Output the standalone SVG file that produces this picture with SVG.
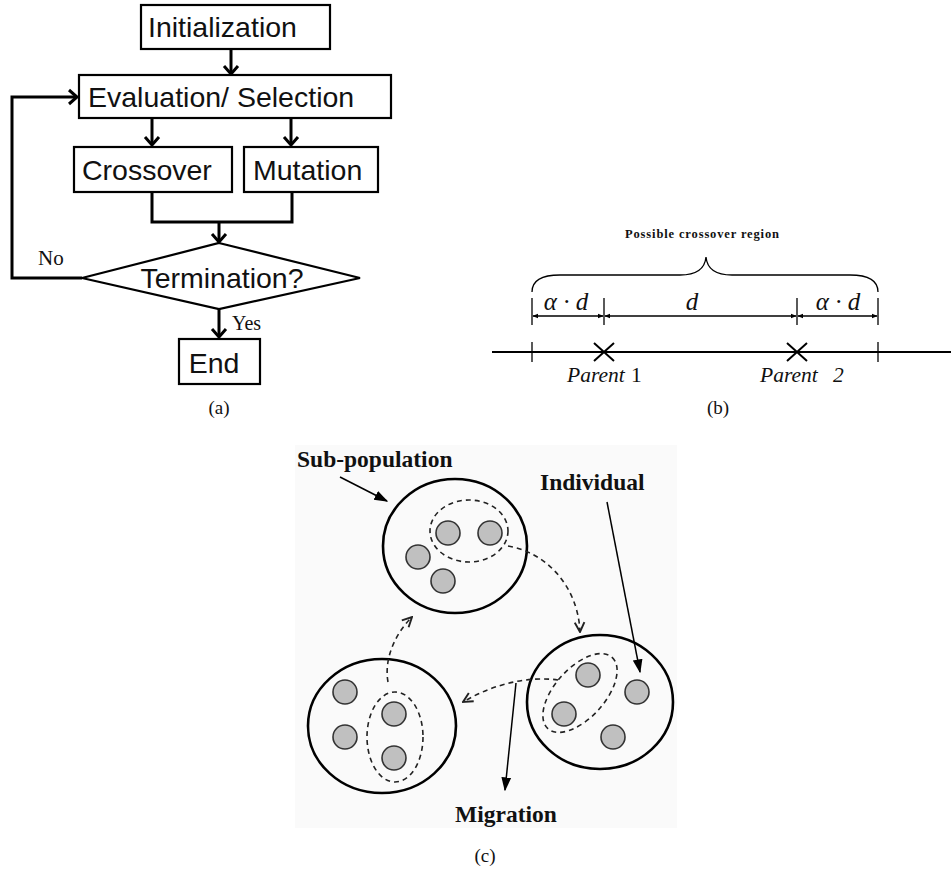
<svg xmlns="http://www.w3.org/2000/svg" width="951" height="876" viewBox="0 0 951 876">
<style>
.box{fill:#fff;stroke:#000;stroke-width:2.2}
.sa{font-family:"Liberation Sans",Arial,sans-serif;font-size:28.5px;fill:#111}
.ser{font-family:"Liberation Serif","Times New Roman",serif;fill:#111}
.ln{fill:none;stroke:#000;stroke-width:3}
.chev{fill:none;stroke:#000;stroke-width:3;stroke-linejoin:miter}
.thin{fill:none;stroke:#000;stroke-width:1.3}
.pop{fill:none;stroke:#000;stroke-width:2.6}
.ind{fill:#c0c0c0;stroke:#333;stroke-width:1.6}
.dash{fill:none;stroke:#222;stroke-width:1.6;stroke-dasharray:5 4}
.bold{font-family:"Liberation Serif","Times New Roman",serif;font-weight:bold;fill:#111}
</style>
<defs>
<marker id="tri" viewBox="0 0 10 10" refX="9" refY="5" markerWidth="6" markerHeight="6" orient="auto-start-reverse" markerUnits="userSpaceOnUse">
<path d="M0,1 L10,5 L0,9 Z" fill="#000"/>
</marker>
<marker id="big" viewBox="0 0 10 10" refX="9" refY="5" markerWidth="14" markerHeight="14" orient="auto" markerUnits="userSpaceOnUse">
<path d="M0,1.5 L10,5 L0,8.5 Z" fill="#000"/>
</marker>
<marker id="open" viewBox="0 0 10 10" refX="9" refY="5" markerWidth="12" markerHeight="12" orient="auto" markerUnits="userSpaceOnUse">
<path d="M1,1 L9,5 L1,9" fill="none" stroke="#222" stroke-width="1.6"/>
</marker>
</defs>
<rect width="951" height="876" fill="#fff"/>
<rect x="295" y="445" width="382" height="383" fill="#fafafa"/>

<!-- Panel (a) -->
<g id="connectors-a">
<line class="ln" x1="231" y1="49" x2="231" y2="74"/>
<polyline class="chev" points="224,66 231,74 238,66"/>
<line class="ln" x1="152" y1="118" x2="152" y2="145"/>
<polyline class="chev" points="145,137 152,145 159,137"/>
<line class="ln" x1="291" y1="118" x2="291" y2="145"/>
<polyline class="chev" points="284,137 291,145 298,137"/>
<polyline class="ln" points="152,192 152,222 292,222 292,192"/>
<line class="ln" x1="219" y1="222" x2="219" y2="242"/>
<polyline class="chev" points="212,234 219,242 226,234"/>
<polyline class="ln" points="82,278 12,278 12,97 77,97"/>
<polyline class="chev" points="69,90 77,97 69,104"/>
<line class="ln" x1="219" y1="309" x2="219" y2="337"/>
<polyline class="chev" points="212,329 219,337 226,329"/>
</g>
<g id="init"><rect class="box" x="141" y="5" width="189" height="44"/><text class="sa" x="148" y="37">Initialization</text></g>
<g id="eval"><rect class="box" x="79" y="75" width="312" height="43"/><text class="sa" x="88" y="107">Evaluation/ Selection</text></g>
<g id="crossover"><rect class="box" x="74" y="147" width="158" height="45"/><text class="sa" x="82" y="180">Crossover</text></g>
<g id="mutation"><rect class="box" x="244" y="147" width="134" height="45"/><text class="sa" x="253" y="180">Mutation</text></g>
<g id="termination"><polygon class="box" points="219,243 360,278 219,309 82,278"/><text class="sa" x="222" y="288" text-anchor="middle">Termination?</text></g>
<g id="end"><rect class="box" x="179" y="339" width="81" height="45"/><text class="sa" x="214" y="373" text-anchor="middle">End</text></g>
<text class="ser" x="38" y="265" font-size="21">No</text>
<text class="ser" x="232" y="330" font-size="20">Yes</text>
<text class="ser" x="219" y="414" font-size="19" text-anchor="middle">(a)</text>

<!-- Panel (b) -->
<g id="panel-b">
<text class="bold" x="625" y="238" font-size="12.5" textLength="154" lengthAdjust="spacing">Possible crossover region</text>
<path class="thin" d="M532,292 C532,282 540,275 560,275 L680,275 C698,275 705,268 706,257 C707,268 714,275 732,275 L850,275 C870,275 878,282 878,292"/>
<line class="thin" x1="532" y1="298" x2="532" y2="325"/>
<line class="thin" x1="604" y1="298" x2="604" y2="325"/>
<line class="thin" x1="797" y1="298" x2="797" y2="325"/>
<line class="thin" x1="878" y1="298" x2="878" y2="325"/>
<line class="thin" x1="533" y1="316" x2="603" y2="316" marker-start="url(#tri)" marker-end="url(#tri)"/>
<line class="thin" x1="605" y1="316" x2="796" y2="316" marker-start="url(#tri)" marker-end="url(#tri)"/>
<line class="thin" x1="798" y1="316" x2="877" y2="316" marker-start="url(#tri)" marker-end="url(#tri)"/>
<text class="ser" x="566" y="310" font-size="25" font-style="italic" text-anchor="middle">α · d</text>
<text class="ser" x="692" y="310" font-size="25" font-style="italic" text-anchor="middle">d</text>
<text class="ser" x="838" y="310" font-size="25" font-style="italic" text-anchor="middle">α · d</text>
<line x1="492" y1="352" x2="951" y2="352" stroke="#000" stroke-width="2"/>
<line class="thin" x1="532" y1="342" x2="532" y2="362"/>
<line class="thin" x1="878" y1="342" x2="878" y2="362"/>
<path d="M594,343 L614,361 M614,343 L594,361 M787,343 L807,361 M807,343 L787,361" stroke="#000" stroke-width="2" fill="none"/>
<text class="ser" x="567" y="382" font-size="21.5" font-style="italic">Parent</text><text class="ser" x="631" y="382" font-size="21.5">1</text>
<text class="ser" x="760" y="382" font-size="21.5" font-style="italic">Parent</text><text class="ser" x="833" y="382" font-size="21.5" font-style="italic">2</text>
</g>
<text class="ser" x="718" y="414" font-size="19" text-anchor="middle">(b)</text>

<!-- Panel (c) -->
<g id="subpop-top">
<ellipse class="pop" cx="455" cy="546" rx="72" ry="67"/>
<ellipse class="dash" cx="469" cy="531" rx="39" ry="31"/>
<circle class="ind" cx="448" cy="533" r="12"/>
<circle class="ind" cx="490" cy="533" r="12"/>
<circle class="ind" cx="418" cy="557" r="12"/>
<circle class="ind" cx="443" cy="581" r="12"/>
</g>
<g id="subpop-right">
<ellipse class="pop" cx="600" cy="702" rx="73" ry="67"/>
<ellipse class="dash" cx="580" cy="693" rx="48" ry="25" transform="rotate(-48 580 693)"/>
<circle class="ind" cx="588" cy="675" r="12"/>
<circle class="ind" cx="637" cy="692" r="12"/>
<circle class="ind" cx="564" cy="714" r="12"/>
<circle class="ind" cx="613" cy="737" r="12"/>
</g>
<g id="subpop-left">
<ellipse class="pop" cx="382" cy="726" rx="74" ry="67"/>
<ellipse class="dash" cx="395" cy="737" rx="28" ry="45"/>
<circle class="ind" cx="345" cy="692" r="12"/>
<circle class="ind" cx="345" cy="737" r="12"/>
<circle class="ind" cx="394" cy="714" r="12"/>
<circle class="ind" cx="394" cy="758" r="12"/>
</g>
<g id="connectors-c">
<path class="dash" d="M508,546 C545,552 578,585 580,632" marker-end="url(#open)"/>
<path class="dash" d="M558,680 C530,676 495,683 463,702" marker-end="url(#open)"/>
<path class="dash" d="M388,682 C384,660 394,635 412,617" marker-end="url(#open)"/>
<line x1="340" y1="477" x2="387" y2="501" stroke="#000" stroke-width="1.5" marker-end="url(#big)"/>
<line x1="607" y1="502" x2="640" y2="672" stroke="#000" stroke-width="1.5" marker-end="url(#big)"/>
<line x1="516" y1="683" x2="505" y2="790" stroke="#000" stroke-width="1.5" marker-end="url(#big)"/>
</g>
<text class="bold" x="297" y="467" font-size="23.5">Sub-population</text>
<text class="bold" x="540" y="490" font-size="23.5">Individual</text>
<text class="bold" x="455" y="822" font-size="23.5">Migration</text>
<text class="ser" x="485" y="862" font-size="19" text-anchor="middle">(c)</text>
</svg>
